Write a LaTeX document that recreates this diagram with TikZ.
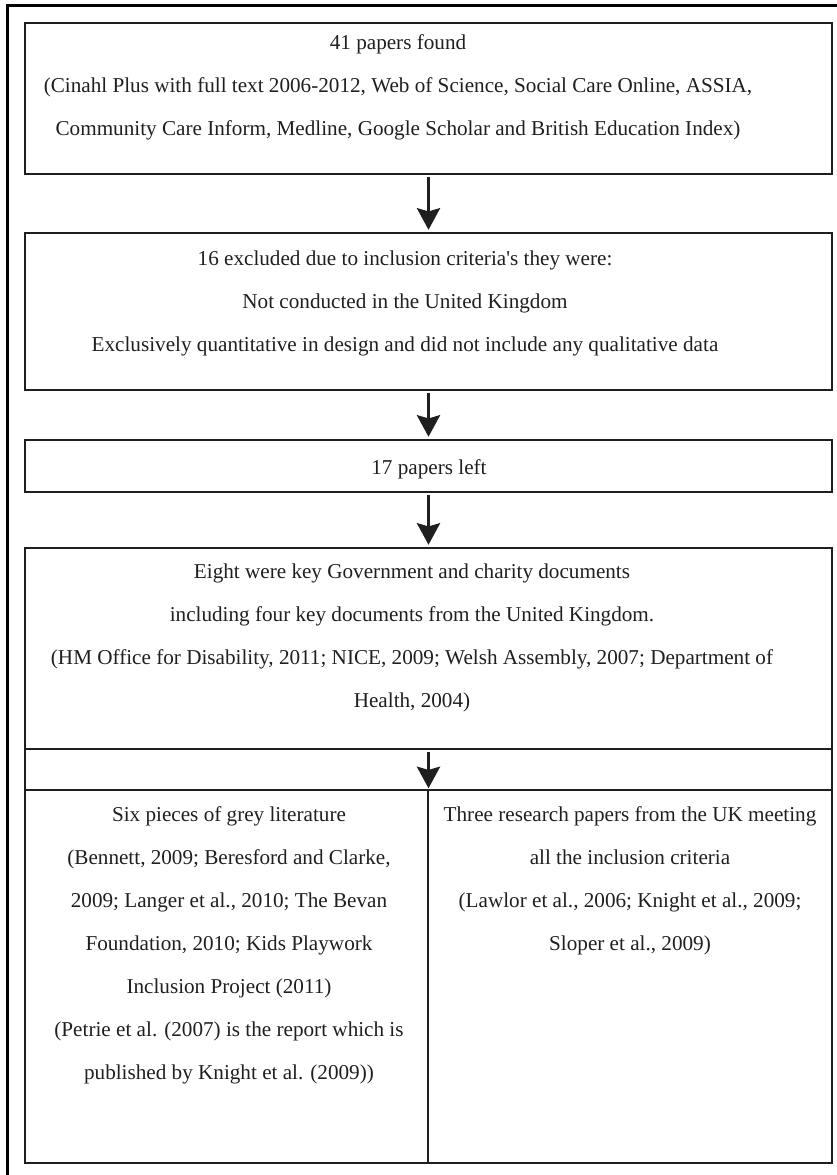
\documentclass[tikz,border=0pt]{standalone}
\usepackage{fontspec}
\setmainfont{Liberation Serif}
\usetikzlibrary{arrows.meta,fit}
\begin{document}
\begin{tikzpicture}[x=0.6pt,y=-0.6pt,>={Stealth[length=13pt,width=14pt,inset=2pt]},
  box/.style={draw=black!88,line width=0.9pt,inner sep=0pt},
  txt/.style={anchor=north,align=center,inner sep=0pt,text=black!88,font=\fontsize{12.7}{25.8}\selectfont},
  link/.style={->,line width=1.3pt,black!88,shorten >=1.5pt,shorten <=1.5pt}]
\useasboundingbox (0,0) rectangle (836,1175);
% outer frame
\draw[line width=1.8pt] (7.5,1180) -- (7.5,6) -- (840,6);
% boxes
\node[box,fit={(25,23) (832,174)}] (found) {};
\node[box,fit={(25,233) (832,390)}] (excl) {};
\node[box,fit={(25,440) (832,492)}] (left) {};
\node[box,fit={(25,548) (832,749)}] (eight) {};
\node[box,fit={(25,749) (832,790)}] (gap) {};
\node[box,fit={(25,790) (428,1163)}] (grey) {};
\node[box,fit={(428,790) (832,1163)}] (research) {};
% texts
\node[txt] (foundtxt) at (398,34) {41 papers found\\
(Cinahl Plus with full text 2006-2012, Web of Science, Social Care Online, ASSIA,\\
Community Care Inform, Medline, Google Scholar and British Education Index)};
\node[txt] (excltxt) at (405,250) {16 excluded due to inclusion criteria\textquotesingle s they were:\\
Not conducted in the United Kingdom\\
Exclusively quantitative in design and did not include any qualitative data};
\node[txt] (lefttxt) at (429,459) {17 papers left};
\node[txt] (eighttxt) at (412,563) {Eight were key Government and charity documents\\
including four key documents from the United Kingdom.\\
(HM Office for Disability, 2011; NICE, 2009; Welsh Assembly, 2007; Department of\\
Health, 2004)};
\node[txt] (greytxt) at (229,806) {Six pieces of grey literature\\
(Bennett, 2009; Beresford and Clarke,\\
2009; Langer et al., 2010; The Bevan\\
Foundation, 2010; Kids Playwork\\
Inclusion Project (2011)\\
(Petrie et al. (2007) is the report which is\\
published by Knight et al. (2009))};
\node[txt] (researchtxt) at (630,806) {Three research papers from the UK meeting\\
all the inclusion criteria\\
(Lawlor et al., 2006; Knight et al., 2009;\\
Sloper et al., 2009)};
% arrows
\draw[link] (found) -- (excl);
\draw[link] (excl) -- (left);
\draw[link] (left) -- (eight);
\draw[link] (eight.south) -- (gap.south);
\end{tikzpicture}
\end{document}
